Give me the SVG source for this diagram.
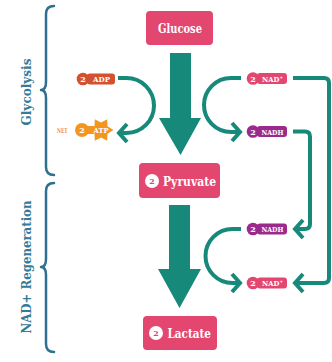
<svg xmlns="http://www.w3.org/2000/svg" width="332" height="362" viewBox="0 0 332 362">
<style>
.box{fill:#e3466f}
.lbl{font-family:"DejaVu Serif","Liberation Serif",serif;font-weight:bold}
.big{font-size:13.5px;fill:#ffffff}
.pt{font-size:8px;fill:#ffffff;text-anchor:middle}
.brace{fill:none;stroke:#2f7090;stroke-width:2.5;stroke-linecap:round;stroke-linejoin:round}
.side{font-size:12px;fill:#347b97;text-anchor:middle}
.conn{fill:none;stroke:#16897a;stroke-width:4;stroke-linejoin:round}
.bigarrow{fill:#16897a}
.pink{fill:#e3466f}
.purple{fill:#9a2a8c}
.red{fill:#d4512f}
.orange{fill:#f39621}
</style>
<defs>
<marker id="chev" markerUnits="userSpaceOnUse" markerWidth="16" markerHeight="22" refX="13" refY="11" orient="auto" overflow="visible">
<path d="M4,2 L12,11 L4,20" fill="none" stroke="#16897a" stroke-width="4" stroke-linejoin="miter"/>
</marker>
</defs>

<!-- braces and side labels -->
<g id="glycolysis-brace">
<path class="brace" d="M54,6 Q46,6 46,14 L46,82 Q46,90 41,90 Q46,90 46,98 L46,167 Q46,175 54,175"/>
<text class="lbl side" transform="translate(30.5,92) rotate(-90)" textLength="67" lengthAdjust="spacingAndGlyphs">Glycolysis</text>
</g>
<g id="regeneration-brace">
<path class="brace" d="M54,183 Q46,183 46,191 L46,259 Q46,267 41,267 Q46,267 46,275 L46,344 Q46,352 54,352"/>
<text class="lbl side" transform="translate(30.5,267) rotate(-90)" textLength="133" lengthAdjust="spacingAndGlyphs">NAD+ Regeneration</text>
</g>

<!-- connectors -->
<g id="connectors">
<polygon class="bigarrow" points="170,53 191,53 191,118 201,118 180.5,155 159,118 170,118"/>
<polygon class="bigarrow" points="169,205 190,205 190,269 201,269 179.5,308 158,269 169,269"/>
<path class="conn" marker-end="url(#chev)" d="M118,78 L126.5,78 A27.5,27.5 0 0 1 126.5,133 L118,133"/>
<path class="conn" marker-end="url(#chev)" d="M241,78 L231,78 A27,27 0 0 0 231,132 L241,132"/>
<path class="conn" marker-end="url(#chev)" d="M241,229 L232.5,229 A27,27 0 0 0 232.5,283 L241,283"/>
<path class="conn" marker-end="url(#chev)" d="M293,78 L324,78 Q329,78 329,83 L329,278 Q329,283 324,283 L294,283"/>
<path class="conn" marker-end="url(#chev)" d="M293,131.5 L305,131.5 Q310,131.5 310,136.5 L310,224 Q310,229 305,229 L294,229"/>
</g>

<!-- main nodes -->
<g id="glucose">
<rect class="box" x="146" y="11" width="67" height="34" rx="4"/>
<text class="lbl big" x="180" y="33" text-anchor="middle" textLength="44" lengthAdjust="spacingAndGlyphs">Glucose</text>
</g>
<g id="pyruvate">
<rect class="box" x="139" y="163" width="81" height="35" rx="4"/>
<circle cx="152" cy="181" r="7" fill="#ffffff"/>
<text class="lbl" x="152" y="184" font-size="8" fill="#e3466f" text-anchor="middle">2</text>
<text class="lbl big" x="163" y="185.5" textLength="53" lengthAdjust="spacingAndGlyphs">Pyruvate</text>
</g>
<g id="lactate">
<rect class="box" x="143" y="316" width="74" height="34" rx="4"/>
<circle cx="156" cy="333" r="7" fill="#ffffff"/>
<text class="lbl" x="156" y="336" font-size="8" fill="#e3466f" text-anchor="middle">2</text>
<text class="lbl big" x="167.5" y="338" textLength="43.5" lengthAdjust="spacingAndGlyphs">Lactate</text>
</g>

<!-- small pills -->
<g id="adp">
<circle class="red" cx="83" cy="79" r="6.3"/>
<rect class="red" x="87" y="73.5" width="28" height="11" rx="3"/>
<text class="lbl pt" x="83" y="82">2</text>
<text class="lbl pt" x="101.5" y="82" textLength="17" lengthAdjust="spacingAndGlyphs">ADP</text>
</g>
<g id="atp">
<text class="lbl" x="57" y="132.5" font-size="7" fill="#f39621" textLength="10.5" lengthAdjust="spacingAndGlyphs">NET</text>
<circle class="orange" cx="82" cy="130" r="7"/>
<rect class="orange" x="84" y="126" width="10" height="8"/>
<polygon class="orange" points="113.5,130 107.5,133.8 107.2,140.8 101,137.5 94.8,140.8 94.5,133.8 88.5,130 94.5,126.2 94.8,119.2 101,122.5 107.2,119.2 107.5,126.2"/>
<text class="lbl pt" x="82" y="133">2</text>
<text class="lbl pt" x="101" y="132.8" font-size="7" textLength="15" lengthAdjust="spacingAndGlyphs">ATP</text>
</g>
<g id="nad-top">
<circle class="pink" cx="253" cy="78.5" r="6.3"/>
<rect class="pink" x="257" y="73" width="30" height="11" rx="3"/>
<text class="lbl pt" x="253" y="81.5">2</text>
<text class="lbl pt" x="272.5" y="81.5" textLength="21" lengthAdjust="spacingAndGlyphs">NAD⁺</text>
</g>
<g id="nadh-top">
<circle class="purple" cx="253" cy="131.5" r="6.3"/>
<rect class="purple" x="257" y="126" width="30" height="11" rx="3"/>
<text class="lbl pt" x="253" y="134.5">2</text>
<text class="lbl pt" x="272.5" y="134.5" textLength="22" lengthAdjust="spacingAndGlyphs">NADH</text>
</g>
<g id="nadh-bottom">
<circle class="purple" cx="253" cy="229" r="6.3"/>
<rect class="purple" x="257" y="223.5" width="30" height="11" rx="3"/>
<text class="lbl pt" x="253" y="232">2</text>
<text class="lbl pt" x="272.5" y="232" textLength="22" lengthAdjust="spacingAndGlyphs">NADH</text>
</g>
<g id="nad-bottom">
<circle class="pink" cx="253" cy="283" r="6.3"/>
<rect class="pink" x="257" y="277.5" width="30" height="11" rx="3"/>
<text class="lbl pt" x="253" y="286">2</text>
<text class="lbl pt" x="272.5" y="286" textLength="21" lengthAdjust="spacingAndGlyphs">NAD⁺</text>
</g>
</svg>
